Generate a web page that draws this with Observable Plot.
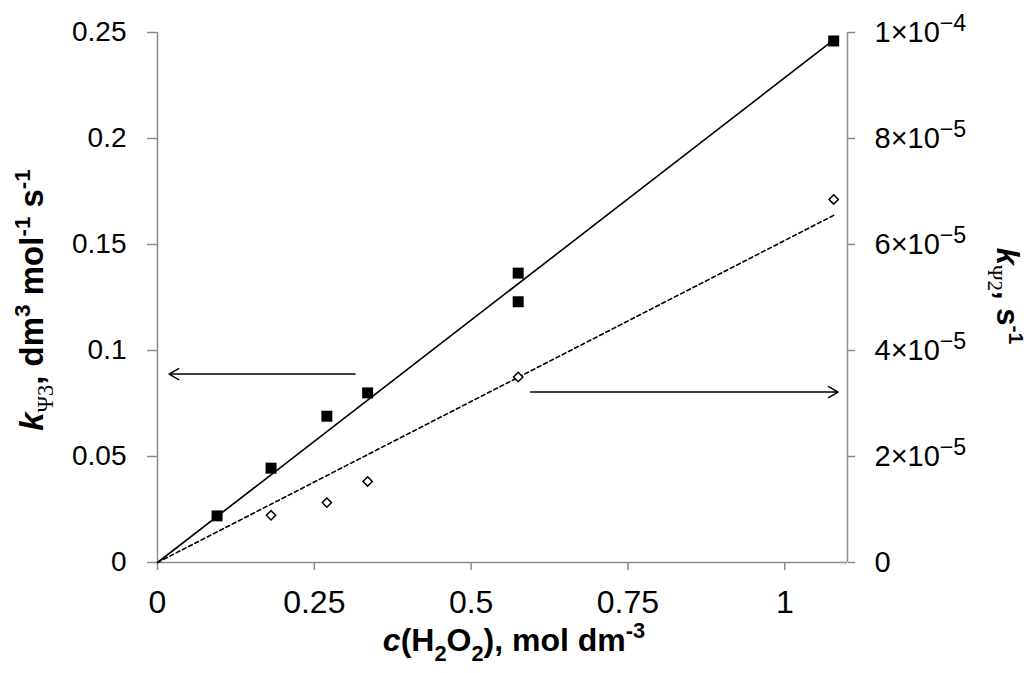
<!DOCTYPE html>
<html><head><meta charset="utf-8">
<script src="https://cdn.jsdelivr.net/npm/d3@7"></script>
<script src="https://cdn.jsdelivr.net/npm/@observablehq/plot@0.6"></script>
<style>
body{margin:0;background:#fff;}
svg{font-family:"Liberation Sans",Arial,sans-serif;}
</style>
</head><body><div id="chart"></div>
<script>
// ---- data ----
const concK3 = [0.095, 0.181, 0.270, 0.335, 0.575, 0.575, 1.078];
const kPsi3 = [0.022, 0.0445, 0.069, 0.080, 0.1365, 0.123, 0.246];
const concK2 = [0.181, 0.270, 0.335, 0.575, 1.078];
const kPsi2 = [8.9e-6, 1.13e-5, 1.53e-5, 3.5e-5, 6.85e-5];
const fitX = [0, 1.078];
const fitK3 = [0, 0.2465];
const fitK2 = [0, 6.55e-5];
const arrowX1 = [0.315, 0.595];
const arrowX2 = [0.0185, 1.085];
const arrowY = [0.0889, 0.0804];
const xTicks = [0, 0.25, 0.5, 0.75, 1];
const xTickLabels = ["0", "0.25", "0.5", "0.75", "1"];
const yTicks = [0, 0.05, 0.1, 0.15, 0.2, 0.25];
const yTickLabels = ["0", "0.05", "0.1", "0.15", "0.2", "0.25"];
const rightTickLabels = ["0", "2×10−5", "4×10−5", "6×10−5", "8×10−5", "1×10−4"];
const rightPerLeft = 1e-4 / 0.25; // right-axis units per left-axis unit

// ---- tables ----
const k3Rows = concK3.map((c, i) => ({c, k: kPsi3[i]}));
const k2Rows = concK2.map((c, i) => ({c, k: kPsi2[i] / rightPerLeft}));
const fit3Rows = fitX.map((c, i) => ({c, k: fitK3[i]}));
const fit2Rows = fitX.map((c, i) => ({c, k: fitK2[i] / rightPerLeft}));
const arrowRows = arrowX1.map((x1, i) => ({x1, x2: arrowX2[i], y: arrowY[i]}));

const gray = "#8c8c8c";
const plot = Plot.plot({
  width: 1028, height: 673,
  marginLeft: 157, marginRight: 181, marginTop: 32, marginBottom: 111,
  x: {domain: [0, 1.1]},
  y: {domain: [0, 0.25]},
  style: {background: "white", fontFamily: '"Liberation Sans", Arial, sans-serif', overflow: "visible"},
  marks: [
    Plot.ruleY([0], {stroke: gray, strokeWidth: 1.5}),
    Plot.ruleX([0], {stroke: gray, strokeWidth: 1.5}),
    Plot.ruleX([1.1], {stroke: gray, strokeWidth: 1.5}),
    Plot.axisX({ticks: xTicks, tickFormat: d => xTickLabels[xTicks.indexOf(d)], tickSize: 8, tickPadding: 20,
      fontSize: 32, stroke: gray, strokeWidth: 1.5, fill: "black", label: null}),
    Plot.axisY({anchor: "left", ticks: yTicks, tickFormat: d => yTickLabels[yTicks.indexOf(d)], tickSize: 10, tickPadding: 21,
      fontSize: 28, stroke: gray, strokeWidth: 1.5, fill: "black", label: null}),
    Plot.axisY({anchor: "right", ticks: yTicks, tickFormat: d => rightTickLabels[yTicks.indexOf(d)], tickSize: 7, tickPadding: 20,
      fontSize: 29, stroke: gray, strokeWidth: 1.5, fill: "black", label: null}),
    Plot.line(fit3Rows, {x: "c", y: "k", stroke: "black", strokeWidth: 1.6}),
    Plot.line(fit2Rows, {x: "c", y: "k", stroke: "black", strokeWidth: 1.6, strokeDasharray: "4,3"}),
    Plot.arrow(arrowRows, {x1: "x1", x2: "x2", y1: "y", y2: "y", stroke: "black", strokeWidth: 1.5, headLength: 11, headAngle: 60, bend: 0}),
    Plot.dot(k3Rows, {x: "c", y: "k", symbol: "square", r: 6.2, fill: "black", stroke: "none"}),
    Plot.dot(k2Rows, {x: "c", y: "k", symbol: "diamond2", r: 4.2, fill: "white", stroke: "black", strokeWidth: 1.5})
  ]
});
document.getElementById("chart").appendChild(plot);

const svg = d3.select(plot);
// superscript exponents in right-axis tick labels
svg.selectAll("text").each(function() {
  const t = this.textContent;
  const m = t.match(/^(.*×10)(.*)$/);
  if (m) {
    const el = d3.select(this);
    el.text(null);
    el.append("tspan").text(m[1]);
    el.append("tspan").attr("dy", "-0.45em").attr("font-size", "0.8em").text(m[2]);
  }
});

function addLabel(parts, transform, size) {
  const t = svg.append("text").attr("transform", transform).attr("text-anchor", "middle")
    .attr("font-size", size).attr("font-weight", "bold").attr("fill", "black");
  let shift = 0;
  parts.forEach(p => {
    const ts = t.append("tspan").text(p.t);
    const target = p.sub ? 0.3 : p.sup ? -0.4 : 0;
    const fs = (p.sub || p.sup) ? 0.68 : 1;
    const dy = (target - shift);
    if (dy !== 0) ts.attr("dy", (dy * size).toFixed(1));
    shift = target;
    if (fs !== 1) ts.attr("font-size", (size * fs).toFixed(1));
    if (p.italic) ts.attr("font-style", "italic");
    if (p.serif) ts.attr("font-family", '"Liberation Serif", "Times New Roman", serif').attr("font-weight", "normal");
  });
}
addLabel([{t: "c", italic: true}, {t: "(H"}, {t: "2", sub: true}, {t: "O"}, {t: "2", sub: true}, {t: "), mol dm"}, {t: "-3", sup: true}],
  "translate(514,651)", 32);
addLabel([{t: "k", italic: true}, {t: "Ψ3", sub: true, serif: true}, {t: ", dm"}, {t: "3", sup: true}, {t: " mol"}, {t: "-1", sup: true}, {t: " s"}, {t: "-1", sup: true}],
  "translate(43,300) rotate(-90)", 33);
addLabel([{t: "k", italic: true}, {t: "Ψ2", sub: true, serif: true}, {t: ", s"}, {t: "-1", sup: true}],
  "translate(997,296) rotate(90)", 31);
</script>
</body></html>
